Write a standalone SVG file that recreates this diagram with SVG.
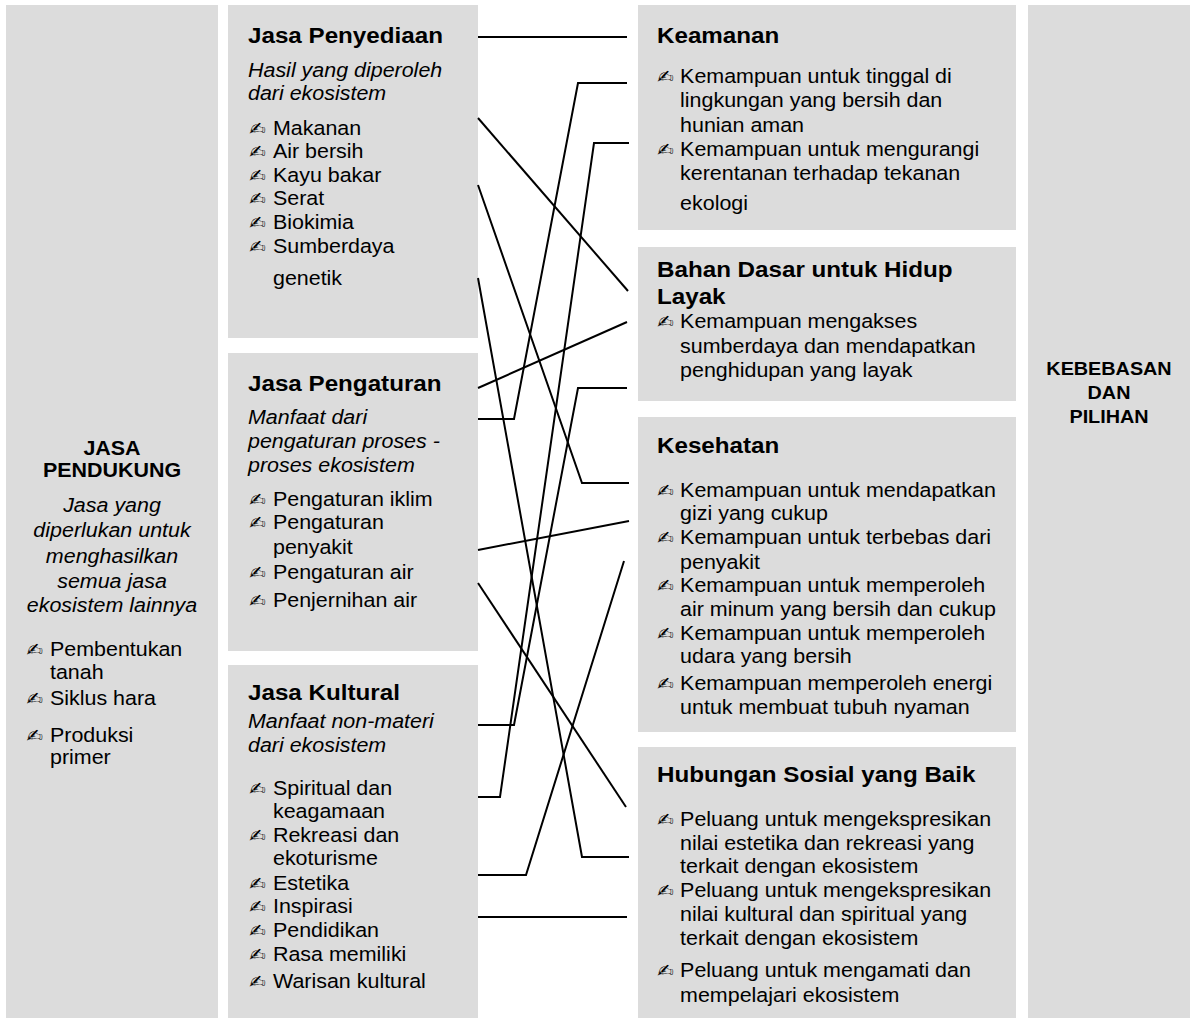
<svg xmlns="http://www.w3.org/2000/svg" width="1193" height="1024" viewBox="0 0 1193 1024">
<style>
.box{fill:#dcdcdc}
.t{font-family:"Liberation Sans",Arial,sans-serif;fill:#000}
.h{font-size:22px;font-weight:bold}
.hc{font-size:19.5px;font-weight:bold;text-anchor:middle}
.hr{font-size:18px;font-weight:bold;text-anchor:middle}
.b{font-size:19.5px}
.i{font-size:19.5px;font-style:italic}
.ic{font-size:19.5px;font-style:italic;text-anchor:middle}
.bul{font-family:"DejaVu Sans",sans-serif;font-size:18px;fill:#000}
.conn{stroke:#000;stroke-width:2;fill:none}
</style>
<rect width="1193" height="1024" fill="#fff"/>

<g id="jasa-pendukung">
<rect class="box" x="6" y="5" width="212" height="1013"/>
<g transform="translate(112,0) scale(1.1,1)">
<text class="t hc" x="0" y="455">JASA</text>
<text class="t hc" x="0" y="477">PENDUKUNG</text>
<text class="t ic" x="0" y="512">Jasa yang</text>
<text class="t ic" x="0" y="537">diperlukan untuk</text>
<text class="t ic" x="0" y="563">menghasilkan</text>
<text class="t ic" x="0" y="588">semua jasa</text>
<text class="t ic" x="0" y="612">ekosistem lainnya</text>
<text class="bul" x="-78" y="656">✍</text><text class="t b" x="-56.4" y="656">Pembentukan</text>
<text class="t b" x="-56.4" y="679">tanah</text>
<text class="bul" x="-78" y="705">✍</text><text class="t b" x="-56.4" y="705">Siklus hara</text>
<text class="bul" x="-78" y="742">✍</text><text class="t b" x="-56.4" y="742">Produksi</text>
<text class="t b" x="-56.4" y="764">primer</text>
</g>
</g>

<g id="jasa-penyediaan">
<rect class="box" x="228" y="5" width="250" height="333"/>
<g transform="translate(248,0) scale(1.1,1)">
<text class="t h" x="0" y="43">Jasa Penyediaan</text>
<text class="t i" x="0" y="77">Hasil yang diperoleh</text>
<text class="t i" x="0" y="100">dari ekosistem</text>
<text class="bul" x="1" y="135">✍</text><text class="t b" x="22.7" y="135">Makanan</text>
<text class="bul" x="1" y="158">✍</text><text class="t b" x="22.7" y="158">Air bersih</text>
<text class="bul" x="1" y="182">✍</text><text class="t b" x="22.7" y="182">Kayu bakar</text>
<text class="bul" x="1" y="205">✍</text><text class="t b" x="22.7" y="205">Serat</text>
<text class="bul" x="1" y="229">✍</text><text class="t b" x="22.7" y="229">Biokimia</text>
<text class="bul" x="1" y="253">✍</text><text class="t b" x="22.7" y="253">Sumberdaya</text>
<text class="t b" x="22.7" y="285">genetik</text>
</g>
</g>

<g id="jasa-pengaturan">
<rect class="box" x="228" y="353" width="250" height="298"/>
<g transform="translate(248,0) scale(1.1,1)">
<text class="t h" x="0" y="391">Jasa Pengaturan</text>
<text class="t i" x="0" y="424">Manfaat dari</text>
<text class="t i" x="0" y="448">pengaturan proses -</text>
<text class="t i" x="0" y="472">proses ekosistem</text>
<text class="bul" x="1" y="506">✍</text><text class="t b" x="22.7" y="506">Pengaturan iklim</text>
<text class="bul" x="1" y="529">✍</text><text class="t b" x="22.7" y="529">Pengaturan</text>
<text class="t b" x="22.7" y="554">penyakit</text>
<text class="bul" x="1" y="579">✍</text><text class="t b" x="22.7" y="579">Pengaturan air</text>
<text class="bul" x="1" y="607">✍</text><text class="t b" x="22.7" y="607">Penjernihan air</text>
</g>
</g>

<g id="jasa-kultural">
<rect class="box" x="228" y="665" width="250" height="353"/>
<g transform="translate(248,0) scale(1.1,1)">
<text class="t h" x="0" y="700">Jasa Kultural</text>
<text class="t i" x="0" y="728">Manfaat non-materi</text>
<text class="t i" x="0" y="752">dari ekosistem</text>
<text class="bul" x="1" y="795">✍</text><text class="t b" x="22.7" y="795">Spiritual dan</text>
<text class="t b" x="22.7" y="818">keagamaan</text>
<text class="bul" x="1" y="842">✍</text><text class="t b" x="22.7" y="842">Rekreasi dan</text>
<text class="t b" x="22.7" y="865">ekoturisme</text>
<text class="bul" x="1" y="890">✍</text><text class="t b" x="22.7" y="890">Estetika</text>
<text class="bul" x="1" y="913">✍</text><text class="t b" x="22.7" y="913">Inspirasi</text>
<text class="bul" x="1" y="937">✍</text><text class="t b" x="22.7" y="937">Pendidikan</text>
<text class="bul" x="1" y="961">✍</text><text class="t b" x="22.7" y="961">Rasa memiliki</text>
<text class="bul" x="1" y="988">✍</text><text class="t b" x="22.7" y="988">Warisan kultural</text>
</g>
</g>

<g id="keamanan">
<rect class="box" x="638" y="5" width="378" height="225"/>
<g transform="translate(657,0) scale(1.1,1)">
<text class="t h" x="0" y="43">Keamanan</text>
<text class="bul" x="0" y="83">✍</text><text class="t b" x="21" y="83">Kemampuan untuk tinggal di</text>
<text class="t b" x="21" y="107">lingkungan yang bersih dan</text>
<text class="t b" x="21" y="132">hunian aman</text>
<text class="bul" x="0" y="156">✍</text><text class="t b" x="21" y="156">Kemampuan untuk mengurangi</text>
<text class="t b" x="21" y="180">kerentanan terhadap tekanan</text>
<text class="t b" x="21" y="210">ekologi</text>
</g>
</g>

<g id="bahan-dasar">
<rect class="box" x="638" y="247" width="378" height="154"/>
<g transform="translate(657,0) scale(1.1,1)">
<text class="t h" x="0" y="277">Bahan Dasar untuk Hidup</text>
<text class="t h" x="0" y="304">Layak</text>
<text class="bul" x="0" y="328">✍</text><text class="t b" x="21" y="328">Kemampuan mengakses</text>
<text class="t b" x="21" y="353">sumberdaya dan mendapatkan</text>
<text class="t b" x="21" y="377">penghidupan yang layak</text>
</g>
</g>

<g id="kesehatan">
<rect class="box" x="638" y="417" width="378" height="315"/>
<g transform="translate(657,0) scale(1.1,1)">
<text class="t h" x="0" y="453">Kesehatan</text>
<text class="bul" x="0" y="497">✍</text><text class="t b" x="21" y="497">Kemampuan untuk mendapatkan</text>
<text class="t b" x="21" y="520">gizi yang cukup</text>
<text class="bul" x="0" y="544">✍</text><text class="t b" x="21" y="544">Kemampuan untuk terbebas dari</text>
<text class="t b" x="21" y="569">penyakit</text>
<text class="bul" x="0" y="592">✍</text><text class="t b" x="21" y="592">Kemampuan untuk memperoleh</text>
<text class="t b" x="21" y="616">air minum yang bersih dan cukup</text>
<text class="bul" x="0" y="640">✍</text><text class="t b" x="21" y="640">Kemampuan untuk memperoleh</text>
<text class="t b" x="21" y="663">udara yang bersih</text>
<text class="bul" x="0" y="690">✍</text><text class="t b" x="21" y="690">Kemampuan memperoleh energi</text>
<text class="t b" x="21" y="714">untuk membuat tubuh nyaman</text>
</g>
</g>

<g id="hubungan-sosial">
<rect class="box" x="638" y="747" width="378" height="271"/>
<g transform="translate(657,0) scale(1.1,1)">
<text class="t h" x="0" y="782">Hubungan Sosial yang Baik</text>
<text class="bul" x="0" y="826">✍</text><text class="t b" x="21" y="826">Peluang untuk mengekspresikan</text>
<text class="t b" x="21" y="850">nilai estetika dan rekreasi yang</text>
<text class="t b" x="21" y="873">terkait dengan ekosistem</text>
<text class="bul" x="0" y="897">✍</text><text class="t b" x="21" y="897">Peluang untuk mengekspresikan</text>
<text class="t b" x="21" y="921">nilai kultural dan spiritual yang</text>
<text class="t b" x="21" y="945">terkait dengan ekosistem</text>
<text class="bul" x="0" y="977">✍</text><text class="t b" x="21" y="977">Peluang untuk mengamati dan</text>
<text class="t b" x="21" y="1002">mempelajari ekosistem</text>
</g>
</g>

<g id="kebebasan">
<rect class="box" x="1028" y="5" width="162" height="1013"/>
<g transform="translate(1109,0) scale(1.1,1)">
<text class="t hr" x="0" y="375">KEBEBASAN</text>
<text class="t hr" x="0" y="399">DAN</text>
<text class="t hr" x="0" y="423">PILIHAN</text>
</g>
</g>

<g id="connectors" class="conn">
<path d="M478,37 H627"/>
<path d="M478,419 H514 L578,83 H627"/>
<path d="M478,797 H500 L594,143 H629"/>
<path d="M478,725 H514 L578,388 H627"/>
<path d="M478,118 L628,291"/>
<path d="M478,185 L582,483 H629"/>
<path d="M478,278 L582,857 H629"/>
<path d="M478,388 L627,322"/>
<path d="M478,550 L629,521"/>
<path d="M478,583 L626,807"/>
<path d="M478,875 H526 L624,561"/>
<path d="M478,917 H627"/>
</g>
</svg>
